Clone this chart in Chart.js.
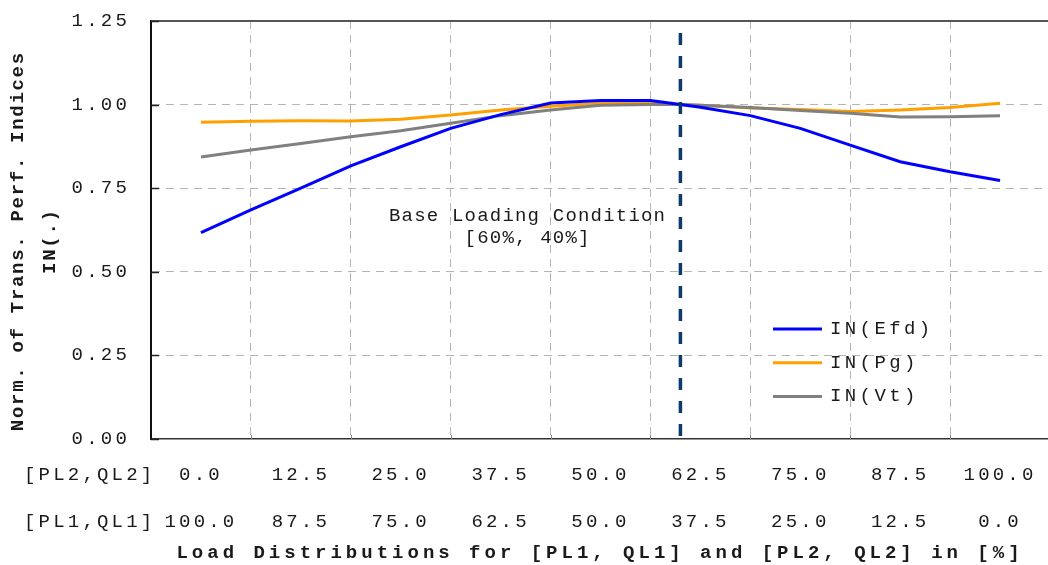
<!DOCTYPE html>
<html><head><meta charset="utf-8">
<script src="https://cdn.jsdelivr.net/npm/chart.js@4.4.1/dist/chart.umd.min.js"></script>
<style>
html,body{margin:0;padding:0;overflow:hidden;background:#fff;width:1048px;height:565px}
#wrap{position:relative;width:1050px;height:565px}
</style></head><body>
<div id="wrap"><canvas id="c"></canvas></div>
<script>
// ---- data ----
const xValues = [0, 6.25, 12.5, 18.75, 25, 31.25, 37.5, 43.75, 50, 56.25, 60, 62.5, 68.75, 75, 81.25, 87.5, 93.75, 100];
const inEfd   = [0.617, 0.685, 0.750, 0.817, 0.874, 0.929, 0.970, 1.005, 1.012, 1.012, 1.000, 0.992, 0.967, 0.929, 0.879, 0.829, 0.799, 0.773];
const inPg    = [0.947, 0.950, 0.952, 0.951, 0.956, 0.969, 0.984, 0.995, 1.004, 1.004, 1.000, 0.998, 0.990, 0.985, 0.979, 0.984, 0.991, 1.004];
const inVt    = [0.843, 0.864, 0.884, 0.904, 0.922, 0.944, 0.967, 0.984, 0.998, 1.000, 1.000, 0.998, 0.991, 0.982, 0.974, 0.963, 0.964, 0.967];
const seriesNames = ['IN(Efd)', 'IN(Pg)', 'IN(Vt)'];
const tickPositions = [0, 12.5, 25, 37.5, 50, 62.5, 75, 87.5, 100];
const pl2Labels = ['0.0', '12.5', '25.0', '37.5', '50.0', '62.5', '75.0', '87.5', '100.0'];
const pl1Labels = ['100.0', '87.5', '75.0', '62.5', '50.0', '37.5', '25.0', '12.5', '0.0'];
const rowLabels = ['[PL2,QL2]', '[PL1,QL1]'];
const gridPositions = [6.25, 18.75, 31.25, 43.75, 56.25, 68.75, 81.25, 93.75];
const yTickValues = [0, 0.25, 0.5, 0.75, 1.0, 1.25];
const baseLoadX = 60;
const annotationLines = ['Base Loading Condition', '[60%, 40%]'];
const xTitle = 'Load Distributions for [PL1, QL1] and [PL2, QL2] in [%]';
const yTitle = ['Norm. of Trans. Perf. Indices', 'IN(.)'];

// ---- styles ----
const MONO = "'Liberation Mono', 'Courier New', monospace";
const colors = ['#0000FF', '#FFA000', '#808080'];
const TICK_LS = '3.2px';
const GRID = '#b4b4b4';

function toPoints(arr) { return arr.map((v, i) => ({x: xValues[i], y: v})); }

const spacingPlugin = {
  id: 'spacing',
  beforeLayout(chart) { chart.ctx.letterSpacing = TICK_LS; },
  beforeDraw(chart) { chart.ctx.letterSpacing = TICK_LS; }
};

function txt(ctx, s, x, y, font, ls, align, color) {
  ctx.save();
  ctx.font = font;
  ctx.letterSpacing = ls;
  ctx.fillStyle = color || '#1a1a1a';
  ctx.textBaseline = 'middle';
  let dx = 0;
  if (align === 'center') { ctx.textAlign = 'left'; dx = -(ctx.measureText(s).width - parseFloat(ls)) / 2; }
  else ctx.textAlign = align;
  ctx.fillText(s, x + dx, y);
  ctx.restore();
}

const decoPlugin = {
  id: 'deco',
  afterDatasetsDraw(chart) {
    const {ctx, chartArea: a, scales: {x}} = chart;
    const bx = x.getPixelForValue(baseLoadX);
    ctx.save();
    ctx.strokeStyle = '#0B3A6B';
    ctx.lineWidth = 3.5;
    ctx.setLineDash([12, 11]);
    ctx.beginPath(); ctx.moveTo(bx, a.bottom - 3); ctx.lineTo(bx, a.top + 3); ctx.stroke();
    ctx.restore();
  },
  afterDraw(chart) {
    const {ctx, chartArea: a, scales: {x, y}} = chart;
    ctx.save();
    ctx.strokeStyle = '#555'; ctx.lineWidth = 2;
    ctx.beginPath(); ctx.moveTo(a.left, a.top); ctx.lineTo(a.right + 5, a.top); ctx.stroke();
    ctx.strokeStyle = '#222'; ctx.lineWidth = 1.5;
    yTickValues.forEach(v => {
      const py = Math.round(y.getPixelForValue(v)) + 0.5;
      ctx.beginPath(); ctx.moveTo(a.left, py); ctx.lineTo(a.left + 8, py); ctx.stroke();
    });
    ctx.strokeStyle = '#888'; ctx.lineWidth = 1;
    gridPositions.forEach(v => {
      const px = Math.round(x.getPixelForValue(v)) + 0.5;
      ctx.beginPath(); ctx.moveTo(px, a.bottom); ctx.lineTo(px, a.bottom - 4); ctx.stroke();
    });
    ctx.restore();

    const ax = x.getPixelForValue(40.8);
    txt(ctx, annotationLines[0], ax, y.getPixelForValue(0.668), `19px ${MONO}`, '1.2px', 'center');
    txt(ctx, annotationLines[1], ax, y.getPixelForValue(0.600), `19px ${MONO}`, '1.2px', 'center');

    chart.data.datasets.forEach((ds, i) => {
      const ly = 329 + i * 33.7;
      ctx.save();
      ctx.strokeStyle = ds.borderColor; ctx.lineWidth = 3;
      ctx.beginPath(); ctx.moveTo(773, ly); ctx.lineTo(822, ly); ctx.stroke();
      ctx.restore();
      txt(ctx, ds.label, 830, ly, `19px ${MONO}`, '3.4px', 'left');
    });

    txt(ctx, rowLabels[0], 24, a.bottom + 35.7, `19px ${MONO}`, TICK_LS, 'left');
    txt(ctx, rowLabels[1], 24, a.bottom + 82.7, `19px ${MONO}`, TICK_LS, 'left');

    txt(ctx, xTitle, 598, 553, `bold 19px ${MONO}`, '4px', 'center');

    ctx.save();
    ctx.translate(18, 242);
    ctx.rotate(-Math.PI / 2);
    txt(ctx, yTitle[0], 0, 0, `bold 19px ${MONO}`, '1.7px', 'center');
    txt(ctx, yTitle[1], 0, 32, `bold 19px ${MONO}`, '1.7px', 'center');
    ctx.restore();
  }
};

new Chart(document.getElementById('c'), {
  type: 'line',
  data: {
    datasets: [
      {label: seriesNames[0], data: toPoints(inEfd), borderColor: colors[0], borderWidth: 3, pointRadius: 0, tension: 0, order: 0},
      {label: seriesNames[1], data: toPoints(inPg), borderColor: colors[1], borderWidth: 3, pointRadius: 0, tension: 0, order: 2},
      {label: seriesNames[2], data: toPoints(inVt), borderColor: colors[2], borderWidth: 3, pointRadius: 0, tension: 0, order: 1}
    ]
  },
  options: {
    responsive: true,
    maintainAspectRatio: false,
    animation: false,
    layout: {padding: {top: 21, left: 0, right: 0, bottom: 0}},
    plugins: {legend: {display: false}, tooltip: {enabled: false}, title: {display: false}},
    scales: {
      x: {
        type: 'linear', min: -6.25, max: 106.25,
        title: {display: false, text: xTitle},
        ticks: {
          stepSize: 6.25, autoSkip: false, maxRotation: 0, padding: 12, color: '#1a1a1a',
          font: {family: MONO, size: 19, lineHeight: '47px'},
          callback: (v) => { const i = tickPositions.indexOf(v); return i < 0 ? '' : [pl2Labels[i], pl1Labels[i]]; }
        },
        grid: {drawTicks: false, lineWidth: 1, color: (c) => (c.tick && gridPositions.includes(c.tick.value)) ? GRID : 'rgba(0,0,0,0)'},
        border: {display: true, color: '#333', width: 1.5, dash: [8, 6]},
        afterFit(s) { s.height = 126; s.paddingLeft = 0; s.paddingRight = 0; }
      },
      y: {
        min: 0, max: 1.25,
        title: {display: false, text: yTitle},
        ticks: {stepSize: 0.25, padding: 21, color: '#1a1a1a', font: {family: MONO, size: 19}, callback: (v) => Number(v).toFixed(2)},
        grid: {drawTicks: false, lineWidth: 1, color: (c) => (c.tick && c.tick.value > 0 && c.tick.value < 1.25) ? GRID : 'rgba(0,0,0,0)'},
        border: {display: true, color: '#111', width: 2, dash: [8, 6]},
        afterFit(s) { s.width = 151; s.paddingTop = 0; s.paddingBottom = 0; }
      }
    }
  },
  plugins: [spacingPlugin, decoPlugin]
});
</script>
</body></html>
